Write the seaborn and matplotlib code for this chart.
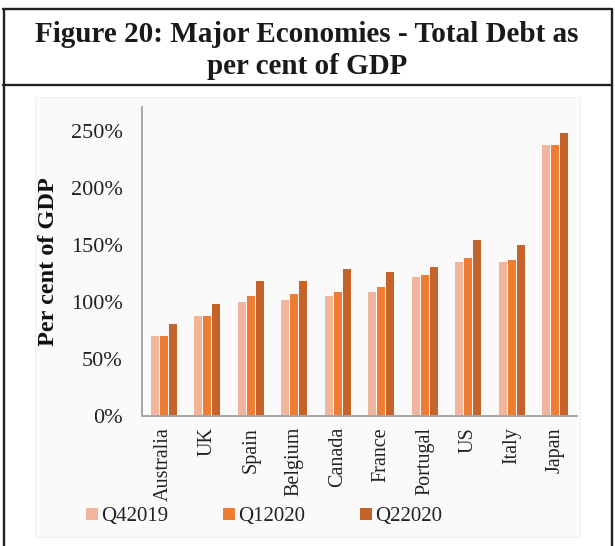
import matplotlib
matplotlib.use("Agg")
import matplotlib.pyplot as plt
import seaborn as sns
import pandas as pd
from matplotlib.lines import Line2D
from matplotlib.patches import Rectangle, Patch
from matplotlib.ticker import FuncFormatter

countries = ["Australia", "UK", "Spain", "Belgium", "Canada", "France",
             "Portugal", "US", "Italy", "Japan"]
series = ["Q42019", "Q12020", "Q22020"]
q42019 = [70, 88, 100, 102, 105, 109, 122, 135, 135, 238]
q12020 = [70, 88, 105, 107, 109, 113, 124, 139, 137, 238]
q22020 = [81, 98, 118, 118, 129, 126, 131, 154, 150, 248]
colors = ["#F3B49C", "#EE7D33", "#C6632A"]
yticks = [0, 50, 100, 150, 200, 250]

df = pd.DataFrame({
    "country": countries * 3,
    "quarter": [series[0]] * 10 + [series[1]] * 10 + [series[2]] * 10,
    "value": q42019 + q12020 + q22020,
})

sns.set_theme(style="white")
plt.rcParams["font.family"] = ["Liberation Serif", "DejaVu Serif"]

W, H = 615, 546
fig = plt.figure(figsize=(W / 100, H / 100), dpi=100)
fig.patch.set_facecolor("white")

def fx(px):
    return px / W

def fy(py):
    return 1 - py / H

# faint inner chart background
fig.add_artist(Rectangle((fx(35), fy(537)), fx(580) - fx(35), fy(97) - fy(537),
                         transform=fig.transFigure, facecolor="#FAFAFA",
                         edgecolor="#F0F0F0", lw=0.8, zorder=0))

ax = fig.add_axes([fx(142), fy(416), fx(577) - fx(142), fy(107) - fy(416)])
ax.set_facecolor("none")

sns.barplot(data=df, x="country", y="value", hue="quarter", order=countries,
            hue_order=series, palette=colors, width=0.63, gap=0.14,
            saturation=1, legend=False, linewidth=0, ax=ax)

ax.set_xlim(-0.5, 9.5)
ax.set_ylim(0, 271)
ax.set_yticks(yticks)
ax.yaxis.set_major_formatter(FuncFormatter(lambda v, p: f"{int(v)}%"))
ax.tick_params(axis="y", labelsize=16, length=0, pad=14, colors="#222222")
ax.tick_params(axis="x", labelsize=14.5, length=0, pad=8, colors="#222222",
               labelrotation=90)
ax.set_xlabel("")
ax.set_ylabel("Per cent of GDP", fontsize=17.5, fontweight="bold",
              color="#111111")
ax.yaxis.set_label_coords(-0.19, 0.5)
for s in ["top", "right"]:
    ax.spines[s].set_visible(False)
for s in ["left", "bottom"]:
    ax.spines[s].set_color("#A6A6A6")
    ax.spines[s].set_linewidth(1.4)
ax.grid(False)

handles = [Patch(facecolor=c, edgecolor="none") for c in colors]
fig.legend(handles, series, loc="center", bbox_to_anchor=(fx(264), fy(517)),
           ncol=3, frameon=False, fontsize=15, handlelength=0.55,
           handleheight=0.55, handletextpad=0.15, columnspacing=2.65,
           labelcolor="#222222")

# frame lines
lw = 1.7
fig.add_artist(Line2D([fx(3), fx(612)], [fy(9), fy(9)], transform=fig.transFigure,
                      color="#222222", lw=lw))
fig.add_artist(Line2D([fx(3), fx(612)], [fy(85), fy(85)], transform=fig.transFigure,
                      color="#222222", lw=lw))
fig.add_artist(Line2D([fx(3.5), fx(3.5)], [fy(9), 0], transform=fig.transFigure,
                      color="#222222", lw=lw))
fig.add_artist(Line2D([fx(611.5), fx(611.5)], [fy(9), 0], transform=fig.transFigure,
                      color="#222222", lw=lw))

fig.text(fx(307), fy(35), "Figure 20: Major Economies - Total Debt as",
         ha="center", va="center", fontsize=21, fontweight="bold", color="#1a1a1a")
fig.text(fx(307), fy(66), "per cent of GDP",
         ha="center", va="center", fontsize=21, fontweight="bold", color="#1a1a1a")

fig.savefig("out.png", dpi=100)
